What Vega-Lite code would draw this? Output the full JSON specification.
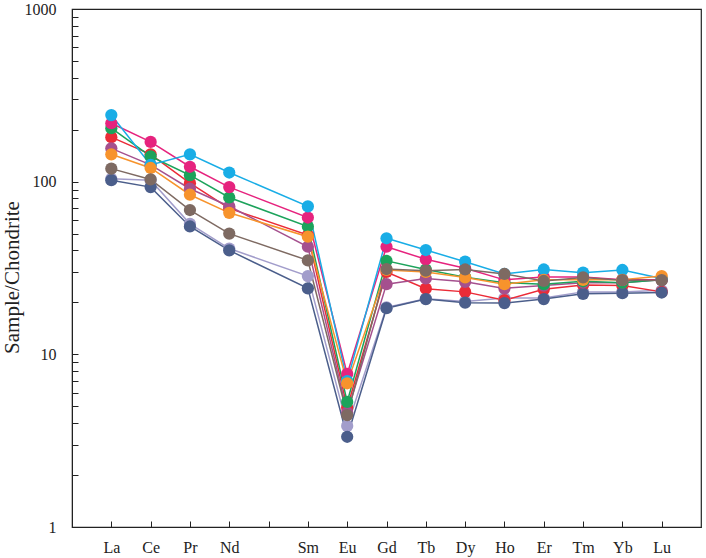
{
  "$schema": "https://vega.github.io/schema/vega-lite/v6.json",
  "width": 629,
  "height": 518,
  "autosize": {"type": "none"},
  "padding": {"left": 72, "top": 9, "right": 5, "bottom": 31},
  "background": "white",
  "config": {
    "view": {"stroke": "#222", "strokeWidth": 1.2},
    "font": "Liberation Serif"
  },
  "data": {"values": [
    {"s":"S8","el":"La","v":104},{"s":"S8","el":"Ce","v":102},{"s":"S8","el":"Pr","v":57},{"s":"S8","el":"Nd","v":41},{"s":"S8","el":"Sm","v":28.4},{"s":"S8","el":"Eu","v":3.85},{"s":"S8","el":"Gd","v":18.7},{"s":"S8","el":"Tb","v":21},{"s":"S8","el":"Dy","v":20.2},{"s":"S8","el":"Ho","v":21.2},{"s":"S8","el":"Er","v":21.2},{"s":"S8","el":"Tm","v":23},{"s":"S8","el":"Yb","v":23},{"s":"S8","el":"Lu","v":23.5},
    {"s":"S4","el":"La","v":181},{"s":"S4","el":"Ce","v":144},{"s":"S4","el":"Pr","v":98},{"s":"S4","el":"Nd","v":70},{"s":"S4","el":"Sm","v":49},{"s":"S4","el":"Eu","v":4.9},{"s":"S4","el":"Gd","v":30},{"s":"S4","el":"Tb","v":24},{"s":"S4","el":"Dy","v":23},{"s":"S4","el":"Ho","v":20.6},{"s":"S4","el":"Er","v":23.8},{"s":"S4","el":"Tm","v":25.2},{"s":"S4","el":"Yb","v":25},{"s":"S4","el":"Lu","v":23},
    {"s":"S9","el":"La","v":102},{"s":"S9","el":"Ce","v":93},{"s":"S9","el":"Pr","v":55},{"s":"S9","el":"Nd","v":40},{"s":"S9","el":"Sm","v":24.1},{"s":"S9","el":"Eu","v":3.33},{"s":"S9","el":"Gd","v":18.5},{"s":"S9","el":"Tb","v":20.9},{"s":"S9","el":"Dy","v":19.9},{"s":"S9","el":"Ho","v":19.8},{"s":"S9","el":"Er","v":20.9},{"s":"S9","el":"Tm","v":22.4},{"s":"S9","el":"Yb","v":22.6},{"s":"S9","el":"Lu","v":22.8},
    {"s":"S5","el":"La","v":156},{"s":"S5","el":"Ce","v":125},{"s":"S5","el":"Pr","v":91},{"s":"S5","el":"Nd","v":72},{"s":"S5","el":"Sm","v":42},{"s":"S5","el":"Eu","v":4.6},{"s":"S5","el":"Gd","v":25.5},{"s":"S5","el":"Tb","v":27.5},{"s":"S5","el":"Dy","v":26.3},{"s":"S5","el":"Ho","v":24.1},{"s":"S5","el":"Er","v":25},{"s":"S5","el":"Tm","v":26},{"s":"S5","el":"Yb","v":26},{"s":"S5","el":"Lu","v":27},
    {"s":"S3","el":"La","v":204},{"s":"S3","el":"Ce","v":140},{"s":"S3","el":"Pr","v":109},{"s":"S3","el":"Nd","v":81},{"s":"S3","el":"Sm","v":55},{"s":"S3","el":"Eu","v":5.3},{"s":"S3","el":"Gd","v":34.8},{"s":"S3","el":"Tb","v":31},{"s":"S3","el":"Dy","v":28},{"s":"S3","el":"Ho","v":26},{"s":"S3","el":"Er","v":25.5},{"s":"S3","el":"Tm","v":26.5},{"s":"S3","el":"Yb","v":26},{"s":"S3","el":"Lu","v":27},
    {"s":"S2","el":"La","v":218},{"s":"S2","el":"Ce","v":170},{"s":"S2","el":"Pr","v":122},{"s":"S2","el":"Nd","v":93},{"s":"S2","el":"Sm","v":62},{"s":"S2","el":"Eu","v":7.7},{"s":"S2","el":"Gd","v":42},{"s":"S2","el":"Tb","v":35.5},{"s":"S2","el":"Dy","v":31.5},{"s":"S2","el":"Ho","v":27},{"s":"S2","el":"Er","v":28},{"s":"S2","el":"Tm","v":28},{"s":"S2","el":"Yb","v":27},{"s":"S2","el":"Lu","v":27},
    {"s":"S1","el":"La","v":243},{"s":"S1","el":"Ce","v":125},{"s":"S1","el":"Pr","v":144},{"s":"S1","el":"Nd","v":113},{"s":"S1","el":"Sm","v":72},{"s":"S1","el":"Eu","v":7.0},{"s":"S1","el":"Gd","v":47},{"s":"S1","el":"Tb","v":40.2},{"s":"S1","el":"Dy","v":34.4},{"s":"S1","el":"Ho","v":29.2},{"s":"S1","el":"Er","v":31},{"s":"S1","el":"Tm","v":29.7},{"s":"S1","el":"Yb","v":30.8},{"s":"S1","el":"Lu","v":27.5},
    {"s":"S6","el":"La","v":144},{"s":"S6","el":"Ce","v":120},{"s":"S6","el":"Pr","v":84},{"s":"S6","el":"Nd","v":66},{"s":"S6","el":"Sm","v":48},{"s":"S6","el":"Eu","v":6.8},{"s":"S6","el":"Gd","v":30.8},{"s":"S6","el":"Tb","v":30},{"s":"S6","el":"Dy","v":27.9},{"s":"S6","el":"Ho","v":25.5},{"s":"S6","el":"Er","v":27},{"s":"S6","el":"Tm","v":27},{"s":"S6","el":"Yb","v":27},{"s":"S6","el":"Lu","v":28.4},
    {"s":"S7","el":"La","v":119},{"s":"S7","el":"Ce","v":103},{"s":"S7","el":"Pr","v":68.5},{"s":"S7","el":"Nd","v":50},{"s":"S7","el":"Sm","v":35},{"s":"S7","el":"Eu","v":4.45},{"s":"S7","el":"Gd","v":31.2},{"s":"S7","el":"Tb","v":30.5},{"s":"S7","el":"Dy","v":31},{"s":"S7","el":"Ho","v":29.2},{"s":"S7","el":"Er","v":26.6},{"s":"S7","el":"Tm","v":27.9},{"s":"S7","el":"Yb","v":26.9},{"s":"S7","el":"Lu","v":26.9}
  ]},
  "encoding": {
    "x": {
      "field": "el", "type": "ordinal",
      "sort": ["La","Ce","Pr","Nd","Sm","Eu","Gd","Tb","Dy","Ho","Er","Tm","Yb","Lu"],
      "scale": {"type": "point", "domain": ["La","Ce","Pr","Nd","Pm","Sm","Eu","Gd","Tb","Dy","Ho","Er","Tm","Yb","Lu"], "padding": 1},
      "axis": {
        "title": null, "labelExpr": "datum.value == 'Pm' ? '' : datum.label",
        "labelAngle": 0, "labelFontSize": 16, "labelColor": "#222", "labelFont": "Liberation Serif",
        "tickSize": -6, "tickColor": "#222", "domainColor": "#222", "labelPadding": 18, "grid": false
      }
    },
    "y": {
      "field": "v", "type": "quantitative",
      "scale": {"type": "log", "domain": [1, 1000], "nice": false},
      "axis": {
        "title": "Sample/Chondrite",
        "values": [1,2,3,4,5,6,7,8,9,10,20,30,40,50,60,70,80,90,100,200,300,400,500,600,700,800,900,1000],
        "format": "d",
        "labelExpr": "(datum.value == 1 || datum.value == 10 || datum.value == 100 || datum.value == 1000) ? datum.label : ''",
        "labelFontSize": 16, "labelColor": "#222", "labelFont": "Liberation Serif",
        "tickSize": -6, "tickColor": "#222", "domainColor": "#222", "labelPadding": 22, "grid": false,
        "titleFont": "Liberation Serif", "titleFontSize": 21, "titleFontWeight": "normal", "titleColor": "#222",
        "titleX": -60, "titleY": 268, "titleAngle": -90, "titleAlign": "center", "titleBaseline": "middle"
      }
    },
    "color": {
      "field": "s", "type": "nominal", "legend": null,
      "scale": {
        "domain": ["S1","S2","S3","S4","S5","S6","S7","S8","S9"],
        "range": ["#19ADE6","#E6237E","#1CA35B","#EB2B37","#A5508E","#F7932C","#7E6A62","#A29DCB","#4B5E8B"]
      }
    }
  },
  "layer": [
    {"mark": {"type": "line", "strokeWidth": 1.5}},
    {"mark": {"type": "point", "filled": true, "opacity": 1, "size": 150, "shape": "circle"}}
  ]
}
